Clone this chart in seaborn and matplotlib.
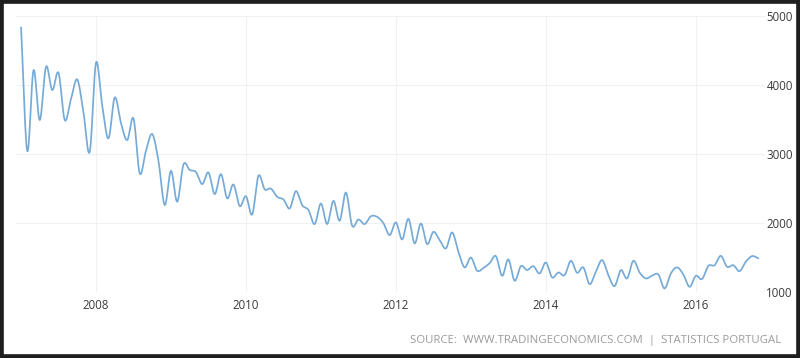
import numpy as np
import pandas as pd
import matplotlib
matplotlib.use("Agg")
import matplotlib.pyplot as plt
from matplotlib.patches import Rectangle
import seaborn as sns

# monthly values, Jan 2007 .. Nov 2016
v2007 = [4836, 3043, 4217, 3493, 4266, 3928, 4178, 3493, 3800, 4082, 3600, 3034]
v2008 = [4324, 3700, 3227, 3821, 3450, 3203, 3517, 2720, 3050, 3290, 2900, 2261]
v2009 = [2758, 2310, 2850, 2770, 2740, 2565, 2734, 2420, 2710, 2358, 2560, 2246]
v2010 = [2390, 2126, 2686, 2490, 2500, 2380, 2343, 2213, 2464, 2260, 2190, 1986]
v2011 = [2285, 1986, 2323, 2034, 2444, 1961, 2053, 1986, 2100, 2090, 2000, 1826]
v2012 = [2010, 1763, 2063, 1706, 1995, 1696, 1874, 1754, 1633, 1865, 1585, 1358]
v2013 = [1502, 1310, 1350, 1420, 1522, 1236, 1474, 1164, 1377, 1320, 1375, 1270]
v2014 = [1430, 1213, 1285, 1246, 1454, 1280, 1358, 1116, 1295, 1464, 1246, 1087]
v2015 = [1319, 1198, 1454, 1285, 1198, 1240, 1256, 1053, 1270, 1358, 1256, 1077]
v2016 = [1236, 1190, 1380, 1390, 1526, 1367, 1390, 1304, 1440, 1522, 1490]

year_ticks = [2008, 2010, 2012, 2014, 2016]
y_ticks = [1000, 2000, 3000, 4000, 5000]
source_text = "SOURCE:  WWW.TRADINGECONOMICS.COM  |  STATISTICS PORTUGAL"

values = np.array(v2007 + v2008 + v2009 + v2010 + v2011 + v2012 +
                  v2013 + v2014 + v2015 + v2016, dtype=float)
months = pd.date_range("2007-01-01", periods=len(values), freq="MS")
xs = months.year + (months.month - 1) / 12.0


def catmull_rom(x, y, n=12):
    """Smooth spline through the points, like the original chart's line."""
    x = np.asarray(x, float)
    y = np.asarray(y, float)
    px = np.concatenate([[2 * x[0] - x[1]], x, [2 * x[-1] - x[-2]]])
    py = np.concatenate([[2 * y[0] - y[1]], y, [2 * y[-1] - y[-2]]])
    t = np.linspace(0, 1, n, endpoint=False)
    ox, oy = [], []
    for i in range(1, len(px) - 2):
        for P, out in ((px, ox), (py, oy)):
            p0, p1, p2, p3 = P[i - 1], P[i], P[i + 1], P[i + 2]
            out.append(0.5 * ((2 * p1) + (-p0 + p2) * t +
                              (2 * p0 - 5 * p1 + 4 * p2 - p3) * t ** 2 +
                              (-p0 + 3 * p1 - 3 * p2 + p3) * t ** 3))
    ox.append([x[-1]])
    oy.append([y[-1]])
    return np.concatenate(ox), np.concatenate(oy)


sx, sy = catmull_rom(xs, values)
df = pd.DataFrame({"year": sx, "value": sy})

sns.set_theme(style="white")
plt.rcParams["font.family"] = ["Open Sans", "DejaVu Sans"]

fig = plt.figure(figsize=(8, 3.58), dpi=100)
ax = fig.add_axes([0.02, 0.184, 0.936, 0.771])

sns.lineplot(data=df, x="year", y="value", ax=ax, color="#76abd8",
             linewidth=1.25, sort=False)

ax.set_xlim(2006.933, 2016.92)
ax.set_ylim(1000, 5000)
ax.set_xticks(year_ticks)
ax.set_xticklabels([str(y) for y in year_ticks])
ax.set_yticks(y_ticks)
ax.yaxis.tick_right()
ax.tick_params(axis="both", length=0, labelsize=8.3, colors="#3a3a3a")
ax.tick_params(axis="x", pad=5)
ax.tick_params(axis="y", pad=1.2)
ax.set_xlabel("")
ax.set_ylabel("")
ax.grid(True, color="#f1f1f1", linewidth=0.8)
for s in ax.spines.values():
    s.set_visible(False)

fig.text(0.977, 0.05, source_text, ha="right", va="center",
         fontsize=8.2, color="#9a9a9a")

fig.patches.append(Rectangle((0, 0), 1, 1, transform=fig.transFigure,
                             fill=False, edgecolor="#1e1e1e", linewidth=5.5,
                             zorder=10))

fig.savefig("out.png", dpi=100)
